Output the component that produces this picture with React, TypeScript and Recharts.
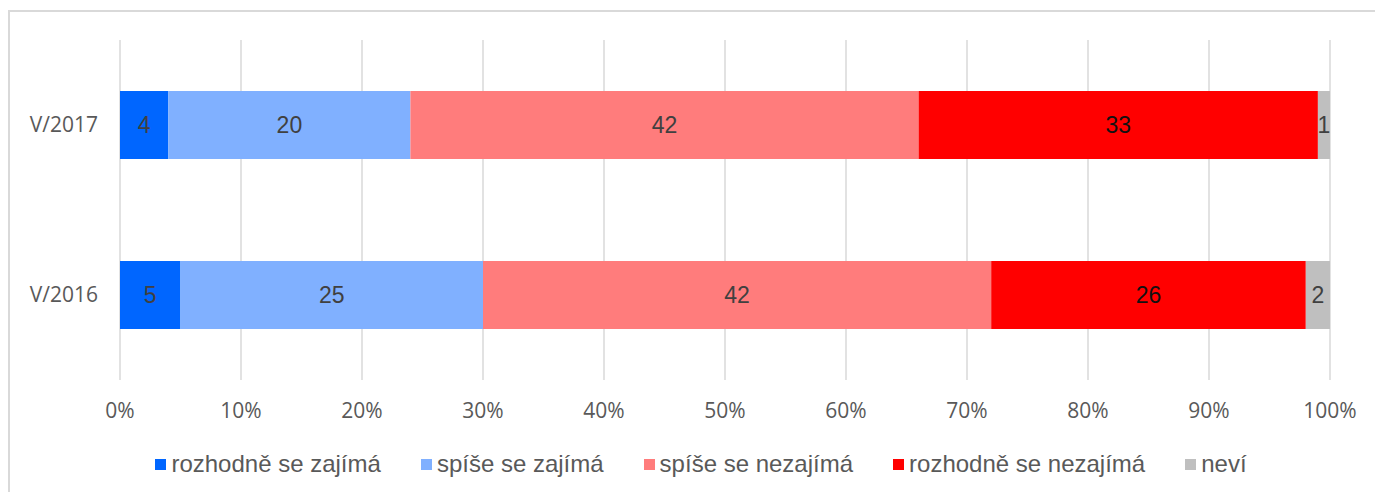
import { BarChart, Bar, XAxis, YAxis, CartesianGrid, LabelList, Legend } from 'recharts';

const periods = ['V/2017', 'V/2016'];
const seriesNames = [
  'rozhodně se zajímá',
  'spíše se zajímá',
  'spíše se nezajímá',
  'rozhodně se nezajímá',
  'neví',
];
const definitelyYes = [4, 5];
const ratherYes = [20, 25];
const ratherNo = [42, 42];
const definitelyNo = [33, 26];
const dontKnow = [1, 2];
const xTicks = [0, 10, 20, 30, 40, 50, 60, 70, 80, 90, 100];

const colors = ['#0066ff', '#80b0ff', '#ff7c7c', '#ff0000', '#bfbfbf'];
const labelColors = ['#404040', '#404040', '#404040', '#111111', '#404040'];

const seriesValues = [definitelyYes, ratherYes, ratherNo, definitelyNo, dontKnow];

const data = periods.map((period, i) => {
  const row: Record<string, string | number> = { period };
  seriesValues.forEach((vals, s) => {
    row[`s${s}`] = vals[i];
  });
  return row;
});

const axisFont = '"Open Sans", "Liberation Sans", sans-serif';
const labelFont = '"Liberation Sans", Arial, sans-serif';

const LegendContent = () => (
  <div
    style={{
      display: 'flex',
      justifyContent: 'center',
      gap: 40,
      fontFamily: labelFont,
      fontSize: 24,
      color: '#595959',
      lineHeight: '24px',
      height: 24,
    }}
  >
    {seriesNames.map((name, i) => (
      <div key={name} style={{ display: 'flex', alignItems: 'center', whiteSpace: 'nowrap' }}>
        <span
          style={{ display: 'inline-block', width: 11, height: 11, background: colors[i], marginRight: 5 }}
        />
        <span>{name}</span>
      </div>
    ))}
  </div>
);

export default function App() {
  return (
    <div
      style={{
        position: 'fixed',
        left: 0,
        top: 0,
        width: 1375,
        height: 492,
        overflow: 'hidden',
        background: '#fff',
      }}
    >
      <div
        style={{
          position: 'absolute',
          left: 8,
          top: 10,
          width: 1420,
          height: 520,
          border: '2px solid #d9d9d9',
          boxSizing: 'border-box',
        }}
      />
      <div style={{ position: 'absolute', left: 0, top: 0 }}>
        <BarChart
          width={1375}
          height={492}
          data={data}
          layout="vertical"
          margin={{ top: 40, right: 45, bottom: 82, left: 0 }}
          barSize={68}
        >
          <CartesianGrid horizontal={false} stroke="#d9d9d9" strokeWidth={1.5} />
          <XAxis
            type="number"
            domain={[0, 100]}
            ticks={xTicks}
            tickFormatter={(v) => `${v}%`}
            axisLine={false}
            tickLine={false}
            tickMargin={17}
            height={30}
            interval={0}
            tick={{ fill: '#595959', fontSize: 21, fontFamily: axisFont }}
          />
          <YAxis
            type="category"
            dataKey="period"
            width={120}
            axisLine={false}
            tickLine={false}
            tickMargin={16}
            tick={{ fill: '#595959', fontSize: 21, fontFamily: axisFont }}
          />
          <Legend
            verticalAlign="middle"
            content={<LegendContent />}
            wrapperStyle={{ left: 0, top: 452, width: 1402 }}
          />
          {seriesNames.map((name, s) => (
            <Bar
              key={name}
              dataKey={`s${s}`}
              name={name}
              stackId="a"
              fill={colors[s]}
              isAnimationActive={false}
            >
              <LabelList
                dataKey={`s${s}`}
                position="center"
                fill={labelColors[s]}
                style={{ fontSize: 23, fontFamily: labelFont }}
              />
            </Bar>
          ))}
        </BarChart>
      </div>
    </div>
  );
}
